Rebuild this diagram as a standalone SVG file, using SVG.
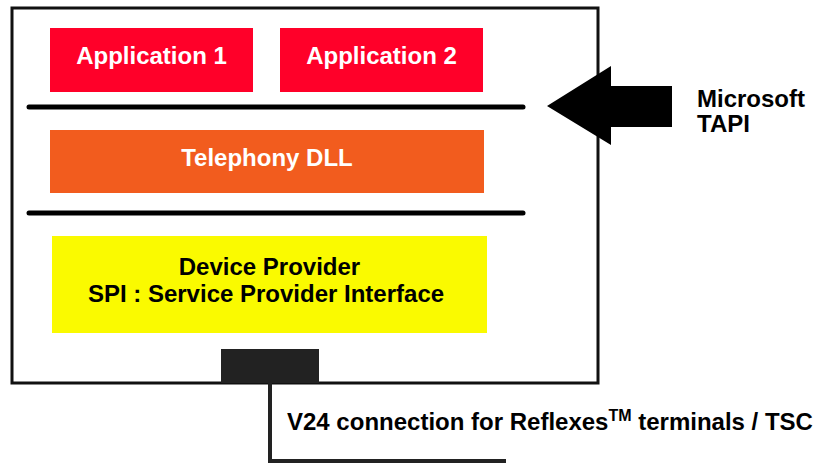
<svg xmlns="http://www.w3.org/2000/svg" width="814" height="466" viewBox="0 0 814 466">
<style>
text{font-family:"Liberation Sans",Arial,sans-serif;font-weight:bold;font-size:24px}
.w{fill:#ffffff}
.k{fill:#000000}
.bar{stroke:#000;stroke-width:5;stroke-linecap:round}
</style>
<rect x="0" y="0" width="814" height="466" fill="#ffffff"/>
<g id="frame"><rect x="12" y="8" width="586" height="375" fill="#fff" stroke="#111" stroke-width="3"/></g>
<g id="app1"><rect x="50" y="28" width="203" height="64" fill="#FF0029"/><text class="w" x="151.5" y="64" text-anchor="middle">Application 1</text></g>
<g id="app2"><rect x="280" y="28" width="203" height="64" fill="#FF0029"/><text class="w" x="381.5" y="64" text-anchor="middle">Application 2</text></g>
<g id="tapi-line"><line class="bar" x1="29" y1="107" x2="523" y2="107"/></g>
<g id="dll"><rect x="50" y="130" width="434" height="63" fill="#F25C1E"/><text class="w" x="267" y="166" text-anchor="middle">Telephony DLL</text></g>
<g id="spi-line"><line class="bar" x1="29" y1="213" x2="523" y2="213"/></g>
<g id="provider"><rect x="52" y="236" width="435" height="97" fill="#FAFA00"/><text class="k" x="269.5" y="275" text-anchor="middle">Device Provider</text><text class="k" x="266" y="302" text-anchor="middle">SPI : Service Provider Interface</text></g>
<g id="port"><rect x="221" y="349" width="98" height="34" fill="#222"/></g>
<g id="tapi"><polygon points="547,106 611,66 611,86 672,86 672,127 611,127 611,145" fill="#000"/><text class="k" x="697" y="107">Microsoft</text><text class="k" x="697" y="132">TAPI</text></g>
<g id="connectors"><path d="M270 383 V461 H506" fill="none" stroke="#222" stroke-width="4"/></g>
<g id="v24"><text class="k" x="287" y="430">V24 connection for Reflexes<tspan font-size="16" dy="-9">TM</tspan><tspan dy="9"> terminals / TSC</tspan></text></g>
</svg>
